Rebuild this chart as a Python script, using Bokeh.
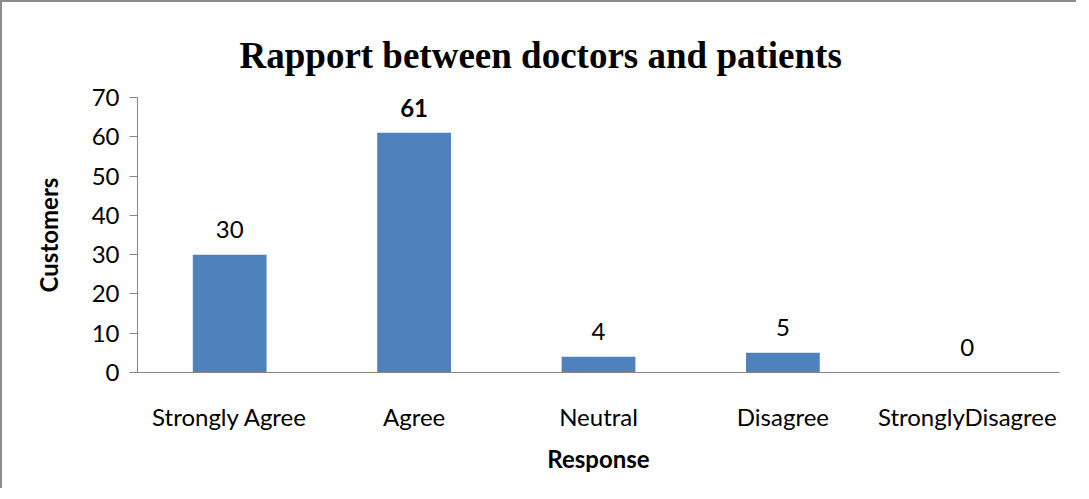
from bokeh.plotting import figure
from bokeh.models import Range1d, ColumnDataSource, FixedTicker, LabelSet, Title
from bokeh.embed import file_html
from bokeh.resources import INLINE
from bokeh.core.properties import value

# ---- data ----
categories = ["Strongly Agree", "Agree", "Neutral", "Disagree", "StronglyDisagree"]
customers = [30, 61, 4, 5, 0]
label_styles = ["normal", "bold", "normal", "normal", "normal"]
y_ticks = [0, 10, 20, 30, 40, 50, 60, 70]

title_text = "Rapport between doctors and patients"
x_label = "Response"
y_label = "Customers"

BAR = "#4F81BD"
AXIS = "#868686"
FONT = "Lato"
FS = "24px"

source = ColumnDataSource(dict(cat=categories, val=customers,
                               txt=[str(v) for v in customers],
                               style=label_styles))

p = figure(x_range=categories, y_range=Range1d(0, 70),
           width=1076, height=488, output_backend="svg", toolbar_location=None,
           min_border_left=135, min_border_right=19, min_border_top=95,
           min_border_bottom=118, title=None)
p.styles = {"border-left": "2px solid #8c8c8c", "border-top": "2px solid #8c8c8c"}

p.vbar(x="cat", top="val", width=0.4, source=source, color=BAR, line_color=None)

p.add_layout(LabelSet(x="cat", y="val", text="txt", source=source,
                      y_offset=25, text_align="center", text_baseline="middle",
                      text_font=value(FONT), text_font_size=FS,
                      text_font_style="style", text_color="black"))

t = Title(text=title_text, align="left", offset=102, standoff=40,
          vertical_align="top",
          text_font="Liberation Serif", text_font_size="37px",
          text_font_style="bold", text_color="black")
p.add_layout(t, "above")

p.xgrid.visible = False
p.ygrid.visible = False
p.outline_line_color = None

# y axis
ya = p.yaxis[0]
ya.ticker = FixedTicker(ticks=y_ticks)
ya.minor_tick_line_color = None
ya.major_tick_in = 0
ya.major_tick_out = 8
ya.axis_line_color = AXIS
ya.major_tick_line_color = AXIS
ya.major_label_standoff = 10
ya.major_label_text_font = FONT
ya.major_label_text_font_size = FS
ya.major_label_text_color = "black"
ya.axis_label = y_label
ya.axis_label_text_font = FONT
ya.axis_label_text_font_size = FS
ya.axis_label_text_font_style = "bold"
ya.axis_label_text_color = "black"
ya.axis_label_standoff = 26

# x axis
xa = p.xaxis[0]
xa.axis_line_color = AXIS
xa.major_tick_line_color = None
xa.major_tick_in = 0
xa.major_tick_out = 0
xa.minor_tick_line_color = None
xa.major_label_standoff = 29
xa.major_label_text_font = FONT
xa.major_label_text_font_size = FS
xa.major_label_text_color = "black"
xa.axis_label = x_label
xa.axis_label_text_font = FONT
xa.axis_label_text_font_size = FS
xa.axis_label_text_font_style = "bold"
xa.axis_label_text_color = "black"
xa.axis_label_standoff = 10

open("out.html", "w").write(file_html(p, INLINE))
